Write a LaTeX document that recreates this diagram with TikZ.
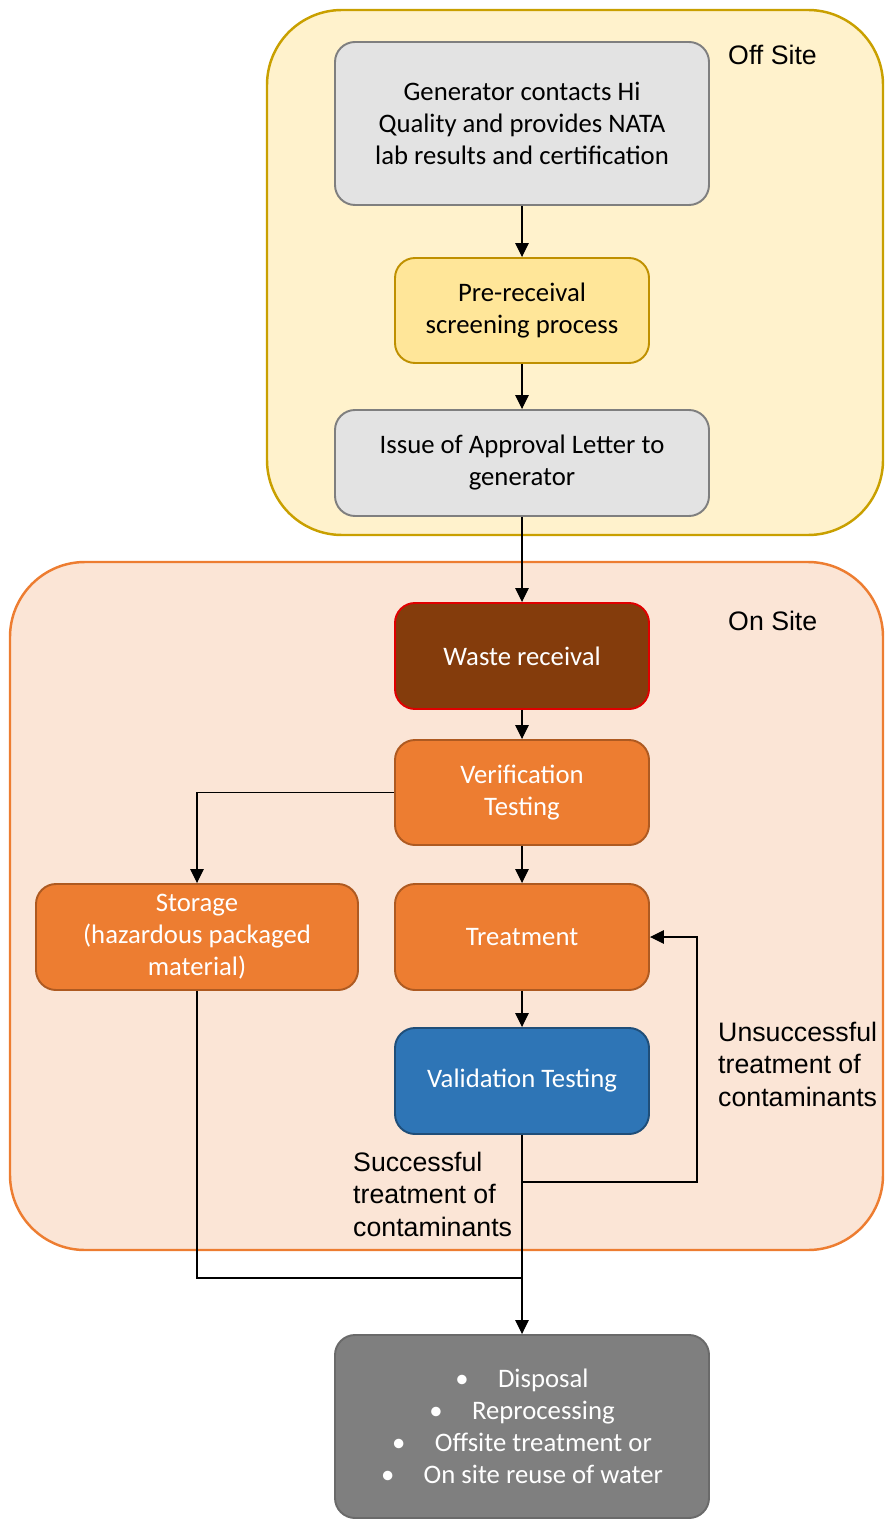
\documentclass[tikz,border=0pt]{standalone}
\usepackage{fontspec}
\setmainfont{Carlito}
\newfontfamily\labelfont{Liberation Sans}
\usetikzlibrary{arrows.meta, positioning, calc}
\definecolor{offFill}{HTML}{FFF2CC}
\definecolor{offDraw}{HTML}{C9A000}
\definecolor{onFill}{HTML}{FBE5D6}
\definecolor{onDraw}{HTML}{ED7D31}
\definecolor{greyFill}{HTML}{E3E3E3}
\definecolor{greyDraw}{HTML}{7F7F7F}
\definecolor{preFill}{HTML}{FFE699}
\definecolor{preDraw}{HTML}{BF9000}
\definecolor{wasteFill}{HTML}{843C0C}
\definecolor{wasteDraw}{HTML}{E00000}
\definecolor{orangeFill}{HTML}{ED7D31}
\definecolor{orangeDraw}{HTML}{AE5A21}
\definecolor{blueFill}{HTML}{2E75B6}
\definecolor{blueDraw}{HTML}{1F4E79}
\definecolor{darkFill}{HTML}{7F7F7F}
\definecolor{darkDraw}{HTML}{6A6A6A}
\tikzset{
  site/.style = {
    draw,
    rounded corners=1.5cm,
    line width=1.4pt,
  },
  box/.style = {
    draw,
    rectangle,
    rounded corners=0.4cm,
    align=center,
    line width=1.1pt,
    font=\fontsize{15.2}{18.2}\selectfont,
    minimum width=5.08cm,
    minimum height=2.1cm,
  },
  wide/.style = {
    box,
    minimum width=7.48cm,
  },
  note/.style = {
    align=left,
    font=\labelfont\fontsize{15.2}{18.5}\selectfont,
  },
}

\begin{document}
\begin{tikzpicture}[
  goes/.style = {
    -{Triangle[length=0.28cm, width=0.27cm]},
    line width=0.6pt,
  },
  plain/.style = {
    line width=0.6pt,
  },
]
\useasboundingbox (0,0) rectangle (17.8,-30.52);

% site areas
\draw[site, fill=offFill, draw=offDraw] (5.34,-0.2) rectangle (17.66,-10.7);
\draw[site, fill=onFill, draw=onDraw] (0.2,-11.24) rectangle (17.66,-25.0);
\node[note, anchor=west] (OffSite) at (14.44,-1.1) {Off Site};
\node[note, anchor=west] (OnSite) at (14.44,-12.42) {On Site};

% off site steps
\node(Gen)[wide, fill=greyFill, draw=greyDraw, minimum height=3.26cm] at (10.44,-2.47)
  {Generator contacts Hi\\Quality and provides NATA\\lab results and certification};
\node(Pre)[box, fill=preFill, draw=preDraw] at (10.44,-6.21)
  {Pre-receival\\screening process};
\node(Issue)[wide, fill=greyFill, draw=greyDraw, minimum height=2.12cm] at (10.44,-9.26)
  {Issue of Approval Letter to\\generator};

% on site steps
\node(Waste)[box, fill=wasteFill, draw=wasteDraw, text=white, minimum height=2.12cm] at (10.44,-13.12)
  {Waste receival};
\node(Verif)[box, fill=orangeFill, draw=orangeDraw, text=white] at (10.44,-15.85)
  {Verification\\Testing};
\node(Storage)[box, fill=orangeFill, draw=orangeDraw, text=white, minimum width=6.44cm, minimum height=2.12cm] at (3.94,-18.74)
  {Storage\\(hazardous packaged\\material)};
\node(Treat)[box, fill=orangeFill, draw=orangeDraw, text=white, minimum height=2.12cm] at (10.44,-18.74)
  {Treatment};
\node(Valid)[box, fill=blueFill, draw=blueDraw, text=white, minimum height=2.12cm] at (10.44,-21.62)
  {Validation Testing};

% outcome
\node(Out)[wide, fill=darkFill, draw=darkDraw, text=white, minimum height=3.66cm] at (10.44,-28.53)
  {\textbullet\hspace{1.1em}Disposal\\
   \textbullet\hspace{1.1em}Reprocessing\\
   \textbullet\hspace{1.1em}Offsite treatment or\\
   \textbullet\hspace{1.1em}On site reuse of water};

\node[note, anchor=west] (Fail) at (14.24,-21.28)
  {Unsuccessful\\treatment of\\contaminants};
\node[note, anchor=west] (Pass) at (6.94,-23.88)
  {Successful\\treatment of\\contaminants};

\coordinate (Loop) at (13.94,-23.64);
\coordinate (Join) at (10.44,-25.56);

\draw[goes] (Gen) -- (Pre);
\draw[goes] (Pre) -- (Issue);
\draw[goes] (Issue) -- (Waste);
\draw[goes] (Waste) -- (Verif);
\draw[goes] (Verif) -- (Treat);
\draw[goes] (Verif.west) -| (Storage.north);
\draw[goes] (Treat) -- (Valid);
\draw[goes] (Valid) -- (Out);
\draw[goes] (Valid.south |- Loop) -- (Loop) |- (Treat.east);
\draw[plain] (Storage.south) |- (Join);

\end{tikzpicture}
\end{document}
